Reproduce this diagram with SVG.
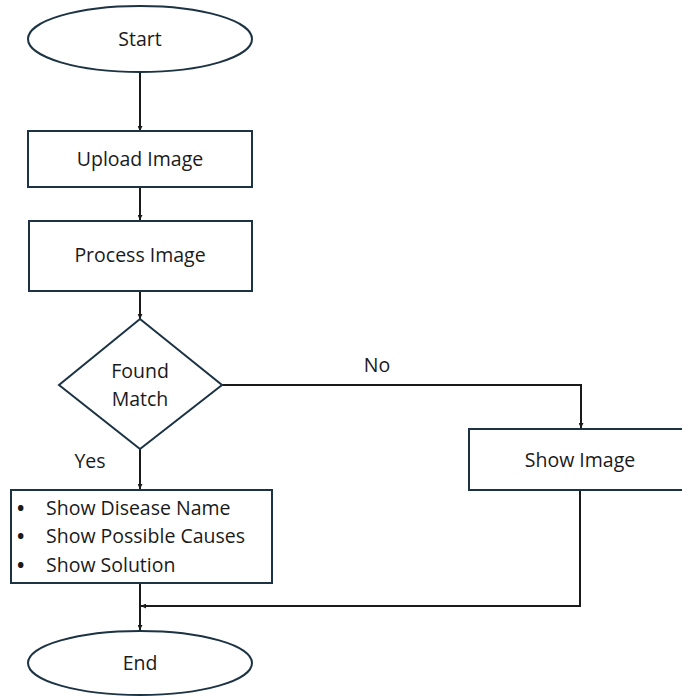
<svg xmlns="http://www.w3.org/2000/svg" width="682" height="696" viewBox="0 0 682 696">
<defs>
<style>
.shape{fill:#ffffff;stroke:#1c3344;stroke-width:2}
.conn{fill:none;stroke:#1a1a1a;stroke-width:2}
text{font-family:"Open Sans","Liberation Sans",sans-serif;font-size:19.5px;fill:#1a1a1a}
.c{text-anchor:middle}
.b{font-weight:bold}
</style>
<marker id="arr" viewBox="0 0 10 10" refX="10" refY="5" markerWidth="5" markerHeight="5" markerUnits="userSpaceOnUse" orient="auto">
<path d="M0,0 L10,5 L0,10 z" fill="#1a1a1a"/>
</marker>
</defs>
<rect width="682" height="696" fill="#ffffff"/>
<g id="connectors">
<line class="conn" x1="140" y1="72" x2="140" y2="131" marker-end="url(#arr)"/>
<line class="conn" x1="140" y1="187" x2="140" y2="220" marker-end="url(#arr)"/>
<line class="conn" x1="140" y1="291" x2="140" y2="319" marker-end="url(#arr)"/>
<line class="conn" x1="140" y1="449" x2="140" y2="489" marker-end="url(#arr)"/>
<line class="conn" x1="140" y1="583" x2="140" y2="630" marker-end="url(#arr)"/>
<polyline class="conn" points="222,385 581,385 581,428" marker-end="url(#arr)"/>
<polyline class="conn" points="580,490 580,606 141,606" marker-end="url(#arr)"/>
<text class="c" x="377" y="372">No</text>
<text class="c" x="90" y="468">Yes</text>
</g>
<g id="start">
<ellipse class="shape" cx="140" cy="39" rx="112" ry="33"/>
<text class="c" x="140" y="46">Start</text>
</g>
<g id="upload">
<rect class="shape" x="28" y="131" width="224" height="56"/>
<text class="c" x="140" y="166">Upload Image</text>
</g>
<g id="process">
<rect class="shape" x="29" y="221" width="223" height="70"/>
<text class="c" x="140" y="262">Process Image</text>
</g>
<g id="decision">
<polygon class="shape" points="140,319 222,385 140,449 59,385"/>
<text class="c" x="140" y="378">Found</text>
<text class="c" x="140" y="406">Match</text>
</g>
<g id="results">
<rect class="shape" x="11" y="490" width="261" height="93"/>
<text class="b" x="17" y="515">•</text>
<text x="46" y="515">Show Disease Name</text>
<text class="b" x="17" y="543">•</text>
<text x="46" y="543">Show Possible Causes</text>
<text class="b" x="17" y="572">•</text>
<text x="46" y="572">Show Solution</text>
</g>
<g id="showimage">
<rect class="shape" x="469" y="429" width="224" height="61"/>
<text class="c" x="580" y="467">Show Image</text>
</g>
<g id="end">
<ellipse class="shape" cx="140" cy="663" rx="112" ry="32"/>
<text class="c" x="140" y="670">End</text>
</g>
</svg>
